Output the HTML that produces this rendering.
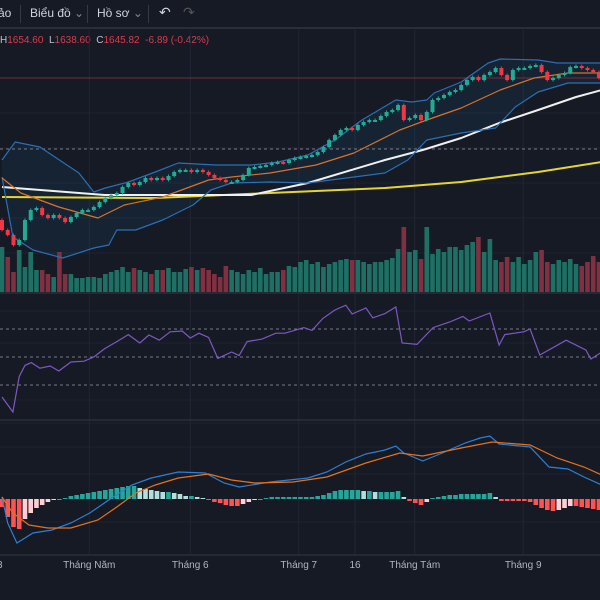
<!DOCTYPE html>
<html><head><meta charset="utf-8">
<style>
html,body{margin:0;padding:0;background:#161a25;width:600px;height:600px;overflow:hidden;font-family:"Liberation Sans","Noto Sans CJK JP",sans-serif}
#tb{position:absolute;left:0;top:0;width:600px;height:27px;background:#161a25;border-bottom:2px solid #2a2e39;color:#d1d4dc;font-size:12px}
#tb span{position:absolute;top:6px}
.sep{position:absolute;top:5px;width:1px;height:18px;background:#363a45}
#legend{position:absolute;left:0;top:35px;font-size:10px;color:#c0c3cc;white-space:nowrap}
#legend .r{color:#e0394a}
svg{position:absolute;left:0;top:0}
</style></head><body>
<div id="tb">
<span style="left:-2px">ảo</span>
<div class="sep" style="left:20px"></div>
<span style="left:30px">Biểu đồ <span style="position:static;color:#888">⌄</span></span>
<div class="sep" style="left:87px"></div>
<span style="left:97px">Hồ sơ <span style="position:static;color:#888">⌄</span></span>
<div class="sep" style="left:148px"></div>
<span style="left:159px;font-size:14px;top:4px">↶</span>
<span style="left:183px;font-size:14px;top:4px;color:#555">↷</span>
</div>
<div id="legend">H<span class="r">1654.60</span> &nbsp;L<span class="r">1638.60</span> &nbsp;C<span class="r">1645.82</span> &nbsp;<span class="r">-6.89 (-0.42%)</span></div>
<svg id="chart" width="600" height="600"></svg>
<script>
const closes=[1340,1330,1310,1320,1360,1380,1384,1370,1364,1370,
1364,1356,1366,1374,1380,1380,1386,1396,1404,1410,
1414,1426,1434,1430,1436,1444,1440,1444,1440,1448,
1456,1460,1460,1456,1460,1456,1450,1444,1440,1436,
1436,1440,1450,1464,1466,1468,1470,1474,1476,1474,
1480,1484,1486,1488,1490,1496,1506,1520,1530,1540,
1544,1540,1550,1556,1560,1560,1568,1576,1580,1590,
1560,1564,1570,1560,1576,1600,1604,1610,1616,1620,
1630,1640,1646,1640,1650,1656,1664,1650,1640,1660,
1664,1664,1668,1670,1656,1640,1644,1650,1654,1666,
1668,1664,1660,1656,1644];
const volumes=[45,35,20,42,25,40,22,22,18,15,40,18,18,14,14,15,15,14,18,20,
22,25,20,24,22,20,18,22,22,24,20,20,23,25,22,24,22,18,15,26,
22,20,18,22,20,24,18,20,20,22,26,25,30,32,28,30,25,28,30,32,
33,32,32,30,28,30,30,32,34,43,65,40,42,33,65,38,43,40,45,45,
42,47,50,55,40,53,32,30,35,30,35,28,32,40,42,30,28,32,30,33,28,26,30,36,30];
const bbUpIdx=[0,2.3,6.6,13.4,16,18,22,26.7,30.7,37.3,43.4,48.1,53.3,58,62.7,68.6,71.4,74,75.3,80,84.7,86.8,93.4,96.7,104.5];
const bbUpVal=[1480,1516,1506,1454,1416,1424,1436,1456,1474,1470,1470,1476,1490,1520,1560,1600,1596,1600,1614,1636,1674,1682,1680,1674,1674];
const bbLoIdx=[0,1.9,5.4,10.6,16,18.6,20,23.3,28,33.3,36.4,40,46.7,53.3,60,66.7,70.7,74,80,86,89.4,93.4,98.6,104.5];
const bbLoVal=[1446,1326,1300,1284,1304,1310,1340,1340,1360,1390,1420,1434,1436,1434,1444,1454,1480,1520,1534,1544,1586,1616,1634,1634];
const bbMidIdx=[0,3.3,9.9,16.7,21.3,28,36,40,46.7,54.7,61.3,69.3,74,80,86.8,92.7,98.6,104.5];
const bbMidVal=[1444,1414,1386,1364,1390,1406,1440,1446,1454,1470,1494,1540,1560,1584,1620,1644,1654,1654];
const ma50Idx=[0,17.9,43.4,53.3,66.7,73.3,80,86.6,93.4,100,104.5];
const ma50Val=[1426,1410,1410,1434,1480,1500,1524,1554,1580,1606,1620];
const ma200Idx=[0,26.7,46.7,66.7,80,93.4,104.5];
const ma200Val=[1406,1404,1414,1424,1436,1456,1476];
const rsiIdx=[0,1.9,3,4,5.1,6.6,8.4,9.9,12,14.3,16,17.9,20,22,24,25.6,27.4,29.3,31.4,32.8,34.3,36,37.6,40,41.3,42.7,45.3,47.7,49.3,52.6,54,55.9,58,59.9,61,63.4,64.6,66.7,68.6,69.7,72.3,75.1,78,80.3,81.4,85,86.6,87.6,90.9,92,93.7,98.3,101.7,102.6,104.5];
const rsiVal=[21.4,10.7,36,44,46,42,43.6,40,46.4,47,50,56,61,66,60,65.7,62,68,68.6,63.6,67,64,49,53.6,51,61,62.8,67,67,71,69,77.6,83.6,87,80.7,85,78,81,85.7,60,59,71,75,79,75.7,81.4,58.6,66,68,70,51.4,62,55,48.6,53.6];
const macdIdx=[0,1,2.6,5.4,8.7,12,15.3,18.6,22.6,26,30.7,35.4,38.7,41.3,46.7,53.3,56.6,59.9,63.4,66.7,68.6,70,73.3,76.7,80.7,83.3,85,86.6,92,95.3,98.6,101.4,104.5];
const macdVal=[1,-12,-22,-17,-15.5,-12,-7,-0.5,7,10.5,13.5,13,8,6,8.5,10.5,13.5,18.5,22.5,24.5,26.5,23,19,23,28,30.5,31.5,27.5,26,16,15,11,7];
const sigIdx=[0,1.9,4.7,8,12,16.7,20,23.3,26.7,30.7,36,40,44,50.7,56.6,63.4,69.3,73.3,80,85.4,92,96.7,101.4,104.5];
const sigVal=[1,-7,-13,-14.5,-14.5,-10.5,-4,3,7,10.5,12.5,9.5,8,8.5,11,18,23,21.5,25.5,28.5,27,20.5,16,12];
const hist=[-4,-9,-14,-15,-10,-7,-4.5,-3,-1.5,-0.5,-0.5,0.5,1.5,2,2.5,3,3.5,4,4.5,5,5.5,6,6.5,6.5,5.5,5,4.5,4,3.5,3.5,3,2.5,1.5,1.5,1,0.5,-0.5,-1.5,-2,-3,-3.5,-3.5,-2.5,-1.5,-0.5,-0.5,0.5,1,1,1,1,1,1,1,1,1.5,2,3,4,4.5,4.5,4.5,4.5,4,4,3.5,3.5,3.5,3.5,4,1,-1,-2,-3,-1.5,0.5,1,1.5,2,2,2.5,2.5,2.5,2.5,2.5,3,1,-1,-1,-1,-1,-1,-1.5,-3,-4.5,-5.5,-6,-5.5,-4.5,-3.5,-3.5,-4,-4.5,-5,-5.5];
const monthLabels=["Tháng Năm","Tháng 6","Tháng 7","16","Tháng Tám","Tháng 9"];
const monthIdx=[15.2,32.8,51.7,61.5,71.9,90.8];
const rsiLevels=[70,50,30];

const svg=document.getElementById('chart');
const NS='http://www.w3.org/2000/svg';
const xBar=i=>i*5.74+2;
const yPrice=p=>50+(1700-p)/2;
const yVol=v=>292-v;
const yRsi=r=>357-(r-50)*1.4;
const yMacd=m=>499-m*2;
function mk(tag,attrs,parent){const e=document.createElementNS(NS,tag);for(const k in attrs)e.setAttribute(k,attrs[k]);(parent||svg).appendChild(e);return e;}
function pts(ix,vals,fy){return ix.map((i,k)=>xBar(i).toFixed(1)+','+fy(vals[k]).toFixed(1)).join(' ');}

monthIdx.forEach(i=>{const l=mk('line',{x1:xBar(i),x2:xBar(i),y1:30,y2:555,stroke:'#222633','stroke-width':1});
});
[78,113,148,183,218,253,311,343,400,423,447,474,522].forEach(y=>{const l=mk('line',{x1:0,x2:600,y1:y,y2:y,stroke:'#1f2330','stroke-width':1});
});
[293,420,555].forEach(y=>{const l=mk('line',{x1:0,x2:600,y1:y,y2:y,stroke:'#2a2e39','stroke-width':1.5});
});

const band=mk('polygon',{points:pts(bbUpIdx,bbUpVal,yPrice)+' '+pts(bbLoIdx.slice().reverse(),bbLoVal.slice().reverse(),yPrice),fill:'rgba(33,150,243,0.07)',stroke:'none'});


volumes.forEach((v,i)=>{const up=i===0?true:closes[i]>=closes[i-1];
const r=mk('rect',{x:xBar(i)-2.3,y:yVol(v),width:4.6,height:v,fill:up?'#1f7a6c':'#8c3344',opacity:0.9});
});

const pl=mk('line',{x1:0,x2:600,y1:yPrice(closes[closes.length-1]),y2:yPrice(closes[closes.length-1]),stroke:'#7a2c36','stroke-width':1});

const dl=mk('line',{x1:0,x2:600,y1:149,y2:149,stroke:'#787b86','stroke-width':1,'stroke-dasharray':'3,3'});


[[ma200Idx,ma200Val,'#e6d530',2,'ma-200-line'],[ma50Idx,ma50Val,'#f0f0f0',2,'ma-50-line'],
 [bbUpIdx,bbUpVal,'#2a6fb5',1.2,'bollinger-upper'],[bbLoIdx,bbLoVal,'#2a6fb5',1.2,'bollinger-lower'],
 [bbMidIdx,bbMidVal,'#d9722a',1.2,'bollinger-basis']].forEach(s=>{
 const p=mk('polyline',{points:pts(s[0],s[1],yPrice),fill:'none',stroke:s[2],'stroke-width':s[3],'stroke-linejoin':'round'});
 });

closes.forEach((c,i)=>{const o=i===0?c+20:closes[i-1];const up=c>=o;const col=up?'#22ab94':'#f23645';
 const hi=Math.max(o,c)+3,lo=Math.min(o,c)-3;
 const g=mk('g',{});
 
 mk('line',{x1:xBar(i),x2:xBar(i),y1:yPrice(hi),y2:yPrice(lo),stroke:col,'stroke-width':1},g);
 const top=yPrice(Math.max(o,c)),h=Math.max(2,Math.abs(o-c)/2);
 mk('rect',{x:xBar(i)-2,y:top,width:4,height:h,fill:col},g);});

rsiLevels.forEach(r=>{const l=mk('line',{x1:0,x2:600,y1:yRsi(r),y2:yRsi(r),stroke:'#787b86','stroke-width':1,'stroke-dasharray':'3,3'});
});
const rl=mk('polyline',{points:pts(rsiIdx,rsiVal,yRsi),fill:'none',stroke:'#7e57c2','stroke-width':1.2});


hist.forEach((h,i)=>{const prev=i===0?0:hist[i-1];
 let col;if(h>=0)col=h>=prev?'#26a69a':'#b2dfdb';else col=h<=prev?'#ff5252':'#ffcdd2';
 const y0=yMacd(0),y1=yMacd(h);
 const r=mk('rect',{x:xBar(i)-2.3,y:Math.min(y0,y1),width:4.6,height:Math.max(1,Math.abs(y1-y0)),fill:col});
 });
const ml=mk('polyline',{points:pts(macdIdx,macdVal,yMacd),fill:'none',stroke:'#2c7fd6','stroke-width':1.2});

const sl=mk('polyline',{points:pts(sigIdx,sigVal,yMacd),fill:'none',stroke:'#e8701a','stroke-width':1.2});


monthLabels.forEach((t,k)=>{const e=mk('text',{x:xBar(monthIdx[k]),y:568,'text-anchor':'middle',fill:'#b2b5be','font-size':10,'font-family':'Liberation Sans, sans-serif'});
 e.textContent=t;});
const e0=mk('text',{x:-3,y:568,fill:'#b2b5be','font-size':10,'font-family':'Liberation Sans, sans-serif'});e0.textContent='3';

</script>
</body></html>
